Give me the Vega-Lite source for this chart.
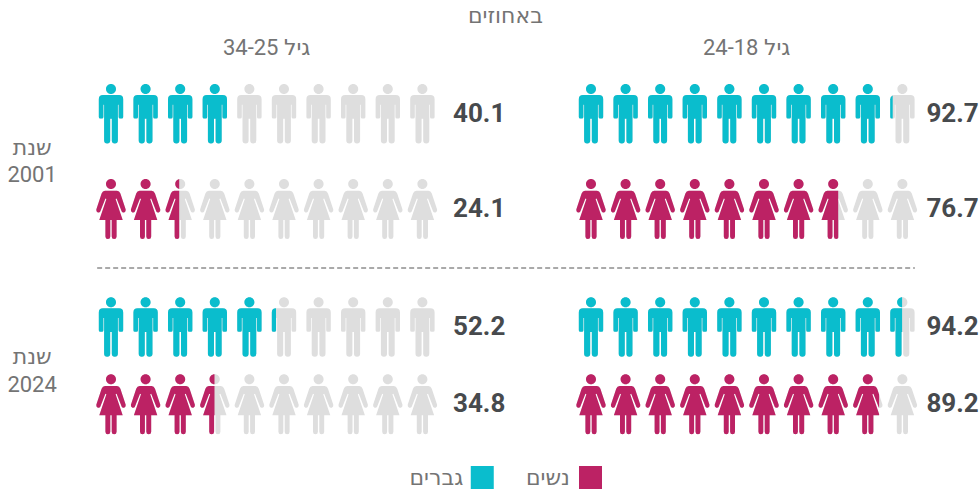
{
"$schema":"https://vega.github.io/schema/vega-lite/v6.json",
"width":980,"height":490,"padding":0,"autosize":{"type":"fit","contains":"padding"},
"background":"white",
"config":{"view":{"stroke":null},"text":{"font":"Roboto, 'DejaVu Sans', sans-serif"}},
"datasets":{
"icons":[
{"panel":"24-18","gender":"men","row":1,"slot":1,"icon":"man"},{"panel":"24-18","gender":"men","row":1,"slot":2,"icon":"man"},{"panel":"24-18","gender":"men","row":1,"slot":3,"icon":"man"},{"panel":"24-18","gender":"men","row":1,"slot":4,"icon":"man"},{"panel":"24-18","gender":"men","row":1,"slot":5,"icon":"man"},{"panel":"24-18","gender":"men","row":1,"slot":6,"icon":"man"},{"panel":"24-18","gender":"men","row":1,"slot":7,"icon":"man"},{"panel":"24-18","gender":"men","row":1,"slot":8,"icon":"man"},{"panel":"24-18","gender":"men","row":1,"slot":9,"icon":"man"},{"panel":"24-18","gender":"men","row":1,"slot":10,"icon":"man92"},
{"panel":"24-18","gender":"women","row":2,"slot":1,"icon":"woman"},{"panel":"24-18","gender":"women","row":2,"slot":2,"icon":"woman"},{"panel":"24-18","gender":"women","row":2,"slot":3,"icon":"woman"},{"panel":"24-18","gender":"women","row":2,"slot":4,"icon":"woman"},{"panel":"24-18","gender":"women","row":2,"slot":5,"icon":"woman"},{"panel":"24-18","gender":"women","row":2,"slot":6,"icon":"woman"},{"panel":"24-18","gender":"women","row":2,"slot":7,"icon":"woman"},{"panel":"24-18","gender":"women","row":2,"slot":8,"icon":"woman76"},{"panel":"24-18","gender":"women","row":2,"slot":9,"icon":"none"},{"panel":"24-18","gender":"women","row":2,"slot":10,"icon":"none"},
{"panel":"24-18","gender":"men","row":3,"slot":1,"icon":"man"},{"panel":"24-18","gender":"men","row":3,"slot":2,"icon":"man"},{"panel":"24-18","gender":"men","row":3,"slot":3,"icon":"man"},{"panel":"24-18","gender":"men","row":3,"slot":4,"icon":"man"},{"panel":"24-18","gender":"men","row":3,"slot":5,"icon":"man"},{"panel":"24-18","gender":"men","row":3,"slot":6,"icon":"man"},{"panel":"24-18","gender":"men","row":3,"slot":7,"icon":"man"},{"panel":"24-18","gender":"men","row":3,"slot":8,"icon":"man"},{"panel":"24-18","gender":"men","row":3,"slot":9,"icon":"man"},{"panel":"24-18","gender":"men","row":3,"slot":10,"icon":"man94"},
{"panel":"24-18","gender":"women","row":4,"slot":1,"icon":"woman"},{"panel":"24-18","gender":"women","row":4,"slot":2,"icon":"woman"},{"panel":"24-18","gender":"women","row":4,"slot":3,"icon":"woman"},{"panel":"24-18","gender":"women","row":4,"slot":4,"icon":"woman"},{"panel":"24-18","gender":"women","row":4,"slot":5,"icon":"woman"},{"panel":"24-18","gender":"women","row":4,"slot":6,"icon":"woman"},{"panel":"24-18","gender":"women","row":4,"slot":7,"icon":"woman"},{"panel":"24-18","gender":"women","row":4,"slot":8,"icon":"woman"},{"panel":"24-18","gender":"women","row":4,"slot":9,"icon":"woman89"},{"panel":"24-18","gender":"women","row":4,"slot":10,"icon":"none"},
{"panel":"34-25","gender":"men","row":1,"slot":1,"icon":"man"},{"panel":"34-25","gender":"men","row":1,"slot":2,"icon":"man"},{"panel":"34-25","gender":"men","row":1,"slot":3,"icon":"man"},{"panel":"34-25","gender":"men","row":1,"slot":4,"icon":"man"},{"panel":"34-25","gender":"men","row":1,"slot":5,"icon":"none"},{"panel":"34-25","gender":"men","row":1,"slot":6,"icon":"none"},{"panel":"34-25","gender":"men","row":1,"slot":7,"icon":"none"},{"panel":"34-25","gender":"men","row":1,"slot":8,"icon":"none"},{"panel":"34-25","gender":"men","row":1,"slot":9,"icon":"none"},{"panel":"34-25","gender":"men","row":1,"slot":10,"icon":"none"},
{"panel":"34-25","gender":"women","row":2,"slot":1,"icon":"woman"},{"panel":"34-25","gender":"women","row":2,"slot":2,"icon":"woman"},{"panel":"34-25","gender":"women","row":2,"slot":3,"icon":"woman24"},{"panel":"34-25","gender":"women","row":2,"slot":4,"icon":"none"},{"panel":"34-25","gender":"women","row":2,"slot":5,"icon":"none"},{"panel":"34-25","gender":"women","row":2,"slot":6,"icon":"none"},{"panel":"34-25","gender":"women","row":2,"slot":7,"icon":"none"},{"panel":"34-25","gender":"women","row":2,"slot":8,"icon":"none"},{"panel":"34-25","gender":"women","row":2,"slot":9,"icon":"none"},{"panel":"34-25","gender":"women","row":2,"slot":10,"icon":"none"},
{"panel":"34-25","gender":"men","row":3,"slot":1,"icon":"man"},{"panel":"34-25","gender":"men","row":3,"slot":2,"icon":"man"},{"panel":"34-25","gender":"men","row":3,"slot":3,"icon":"man"},{"panel":"34-25","gender":"men","row":3,"slot":4,"icon":"man"},{"panel":"34-25","gender":"men","row":3,"slot":5,"icon":"man"},{"panel":"34-25","gender":"men","row":3,"slot":6,"icon":"man52"},{"panel":"34-25","gender":"men","row":3,"slot":7,"icon":"none"},{"panel":"34-25","gender":"men","row":3,"slot":8,"icon":"none"},{"panel":"34-25","gender":"men","row":3,"slot":9,"icon":"none"},{"panel":"34-25","gender":"men","row":3,"slot":10,"icon":"none"},
{"panel":"34-25","gender":"women","row":4,"slot":1,"icon":"woman"},{"panel":"34-25","gender":"women","row":4,"slot":2,"icon":"woman"},{"panel":"34-25","gender":"women","row":4,"slot":3,"icon":"woman"},{"panel":"34-25","gender":"women","row":4,"slot":4,"icon":"woman34"},{"panel":"34-25","gender":"women","row":4,"slot":5,"icon":"none"},{"panel":"34-25","gender":"women","row":4,"slot":6,"icon":"none"},{"panel":"34-25","gender":"women","row":4,"slot":7,"icon":"none"},{"panel":"34-25","gender":"women","row":4,"slot":8,"icon":"none"},{"panel":"34-25","gender":"women","row":4,"slot":9,"icon":"none"},{"panel":"34-25","gender":"women","row":4,"slot":10,"icon":"none"}
],
"values":[
{"panel":"24-18","row":1,"slot":11.45,"value":"92.7"},{"panel":"24-18","row":2,"slot":11.45,"value":"76.7"},{"panel":"24-18","row":3,"slot":11.45,"value":"94.2"},{"panel":"24-18","row":4,"slot":11.45,"value":"89.2"},
{"panel":"34-25","row":1,"slot":11.64,"value":"40.1"},{"panel":"34-25","row":2,"slot":11.64,"value":"24.1"},{"panel":"34-25","row":3,"slot":11.64,"value":"52.2"},{"panel":"34-25","row":4,"slot":11.64,"value":"34.8"}
],
"labels":[
{"panel":"24-18","row":0,"slot":5.5,"label":"24-18 גיל"},{"panel":"34-25","row":0,"slot":5.5,"label":"34-25 גיל"},
{"panel":"34-25","row":-1,"slot":12.4,"label":"באחוזים"},
{"panel":"34-25","row":1.36,"slot":-1.28,"label":"שנת"},{"panel":"34-25","row":1.64,"slot":-1.28,"label":"2001"},
{"panel":"34-25","row":3.39,"slot":-1.28,"label":"שנת"},{"panel":"34-25","row":3.75,"slot":-1.28,"label":"2024"}
],
"legendText":[
{"panel":"24-18","row":5,"slot":0.39,"label":"נשים"},{"panel":"34-25","row":5,"slot":11.18,"label":"גברים"}
],
"legendSwatch":[
{"panel":"24-18","row":5,"slot":0.985,"gender":"women"},{"panel":"34-25","row":5,"slot":11.73,"gender":"men"}
],
"divider":[
{"panel":"34-25","row":2.5,"slot":0.6},{"panel":"24-18","row":2.5,"slot":10.36}
]
},
"encoding":{
"x":{"field":"panel","type":"nominal","axis":null,"scale":{"domain":["34-25","24-18"],"range":[76.4,971.6],"paddingInner":0.135,"paddingOuter":0}},
"xOffset":{"field":"slot","type":"quantitative","scale":{"domain":[0,12],"range":[0,415.2],"zero":false,"nice":false}},
"y":{"field":"row","type":"quantitative","axis":null,"scale":{"domain":[-1,0,1,2,3,4,5],"range":[16,48,113.7,209,327,404.3,477.5],"zero":false,"nice":false}}
},
"layer":[
{"data":{"name":"divider"},"mark":{"type":"line","color":"#555555","strokeWidth":1,"strokeDash":[5,3]}},
{"data":{"name":"icons"},"mark":{"type":"point","filled":true,"opacity":1,"color":"#dedede","size":4,"strokeWidth":0},
"encoding":{"shape":{"field":"gender","type":"nominal","legend":null,"scale":{"domain":["men","women","man","woman","man92","man52","man94","woman76","woman89","woman24","woman34"],"range":[
"M-5,-24.7a5,5 0 1,0 10,0a5,5 0 1,0 -10,0ZM-8,-18.7H8Q12.2,-18.7 12.2,-14.5V3.2Q12.2,4.7 10.7,4.7H9.1Q7.6,4.7 7.6,3.2V-9H6.9V26.7Q6.9,29.7 3.8,29.7Q0.8,29.7 0.8,26.7V5H-0.8V26.7Q-0.8,29.7 -3.8,29.7Q-6.9,29.7 -6.9,26.7V-9H-7.6V3.2Q-7.6,4.7 -9.1,4.7H-10.7Q-12.2,4.7 -12.2,3.2V-14.5Q-12.2,-18.7 -8,-18.7Z",
"M-5,-25a5,5 0 1,0 10,0a5,5 0 1,0 -10,0ZM-6,-18.3H6Q8.4,-18.3 9.4,-15.6L14.7,0.4Q15.1,2.6 13.2,3.4Q11.4,3.9 10.7,2.4L5.6,-10.5L4.6,-10L11.7,11H5.6V27.5Q5.6,30 3.15,30Q0.7,30 0.7,27.5V11H-0.7V27.5Q-0.7,30 -3.15,30Q-5.6,30 -5.6,27.5V11H-11.7L-4.6,-10L-5.6,-10.5L-10.7,2.4Q-11.4,3.9 -13.2,3.4Q-15.1,2.6 -14.7,0.4L-9.4,-15.6Q-8.4,-18.3 -6,-18.3Z",
"M-5,-24.7a5,5 0 1,0 10,0a5,5 0 1,0 -10,0ZM-8,-18.7H8Q12.2,-18.7 12.2,-14.5V3.2Q12.2,4.7 10.7,4.7H9.1Q7.6,4.7 7.6,3.2V-9H6.9V26.7Q6.9,29.7 3.8,29.7Q0.8,29.7 0.8,26.7V5H-0.8V26.7Q-0.8,29.7 -3.8,29.7Q-6.9,29.7 -6.9,26.7V-9H-7.6V3.2Q-7.6,4.7 -9.1,4.7H-10.7Q-12.2,4.7 -12.2,3.2V-14.5Q-12.2,-18.7 -8,-18.7Z",
"M-5,-25a5,5 0 1,0 10,0a5,5 0 1,0 -10,0ZM-6,-18.3H6Q8.4,-18.3 9.4,-15.6L14.7,0.4Q15.1,2.6 13.2,3.4Q11.4,3.9 10.7,2.4L5.6,-10.5L4.6,-10L11.7,11H5.6V27.5Q5.6,30 3.15,30Q0.7,30 0.7,27.5V11H-0.7V27.5Q-0.7,30 -3.15,30Q-5.6,30 -5.6,27.5V11H-11.7L-4.6,-10L-5.6,-10.5L-10.7,2.4Q-11.4,3.9 -13.2,3.4Q-15.1,2.6 -14.7,0.4L-9.4,-15.6Q-8.4,-18.3 -6,-18.3Z",
"M-9.7,-18.2Q-12.2,-17.2 -12.2,-14.5V3.2Q-12.2,4.7 -10.7,4.7H-9.7Z",
"M-8,-18.7Q-12.2,-18.7 -12.2,-14.5V3.2Q-12.2,4.7 -10.7,4.7H-9.1Q-8,4.7 -8,3.6Z",
"M-0.3,-29.7A5,5 0 0,0 -0.3,-19.7ZM-8,-18.7H-0.3V5H-0.8V26.7Q-0.8,29.7 -3.8,29.7Q-6.9,29.7 -6.9,26.7V-9H-7.6V3.2Q-7.6,4.7 -9.1,4.7H-10.7Q-12.2,4.7 -12.2,3.2V-14.5Q-12.2,-18.7 -8,-18.7Z",
"M-5,-25a5,5 0 1,0 10,0a5,5 0 1,0 -10,0ZM-6,-18.3H5V28.7Q4.3,30 3.15,30Q0.7,30 0.7,27.5V11H-0.7V27.5Q-0.7,30 -3.15,30Q-5.6,30 -5.6,27.5V11H-11.7L-4.6,-10L-5.6,-10.5L-10.7,2.4Q-11.4,3.9 -13.2,3.4Q-15.1,2.6 -14.7,0.4L-9.4,-15.6Q-8.4,-18.3 -6,-18.3Z",
"M-5,-25a5,5 0 1,0 10,0a5,5 0 1,0 -10,0ZM-6,-18.3H6Q8.4,-18.3 9.4,-15.6L11.3,-9.9V3.8Q10.9,3.4 10.7,2.4L5.6,-10.5L4.6,-10L11.3,9.8V11H5.6V27.5Q5.6,30 3.15,30Q0.7,30 0.7,27.5V11H-0.7V27.5Q-0.7,30 -3.15,30Q-5.6,30 -5.6,27.5V11H-11.7L-4.6,-10L-5.6,-10.5L-10.7,2.4Q-11.4,3.9 -13.2,3.4Q-15.1,2.6 -14.7,0.4L-9.4,-15.6Q-8.4,-18.3 -6,-18.3Z",
"M-1,-29.9A5,5 0 0,0 -1,-20.1ZM-6,-18.3H-1V28.5Q-1.6,30 -3.15,30Q-5.6,30 -5.6,27.5V11H-11.7L-4.6,-10L-5.6,-10.5L-10.7,2.4Q-11.4,3.9 -13.2,3.4Q-15.1,2.6 -14.7,0.4L-9.4,-15.6Q-8.4,-18.3 -6,-18.3Z",
"M-0.3,-30A5,5 0 0,0 -0.3,-20ZM-6,-18.3H-0.3V11H-0.7V27.5Q-0.7,30 -3.15,30Q-5.6,30 -5.6,27.5V11H-11.7L-4.6,-10L-5.6,-10.5L-10.7,2.4Q-11.4,3.9 -13.2,3.4Q-15.1,2.6 -14.7,0.4L-9.4,-15.6Q-8.4,-18.3 -6,-18.3Z"
]}}}},
{"data":{"name":"icons"},"transform":[{"filter":"datum.icon !== 'none'"}],"mark":{"type":"point","filled":true,"opacity":1,"size":4,"strokeWidth":0},
"encoding":{"shape":{"field":"icon","type":"nominal","legend":null,"scale":{"domain":["men","women","man","woman","man92","man52","man94","woman76","woman89","woman24","woman34"]}},
"color":{"field":"gender","type":"nominal","legend":null,"scale":{"domain":["men","women"],"range":["#0abdcd","#bc2264"]}}}},
{"data":{"name":"legendSwatch"},"mark":{"type":"square","opacity":1,"size":529},
"encoding":{"color":{"field":"gender","type":"nominal","legend":null}}},
{"data":{"name":"legendText"},"mark":{"type":"text","align":"right","baseline":"middle","fontSize":22,"color":"#747474"},"encoding":{"text":{"field":"label"}}},
{"data":{"name":"labels"},"mark":{"type":"text","align":"center","baseline":"middle","fontSize":22,"color":"#747474"},"encoding":{"text":{"field":"label"}}},
{"data":{"name":"values"},"mark":{"type":"text","align":"center","baseline":"middle","font":"Roboto","fontSize":26,"fontWeight":"bold","color":"#474a4d"},"encoding":{"text":{"field":"value"}}}
]
}
